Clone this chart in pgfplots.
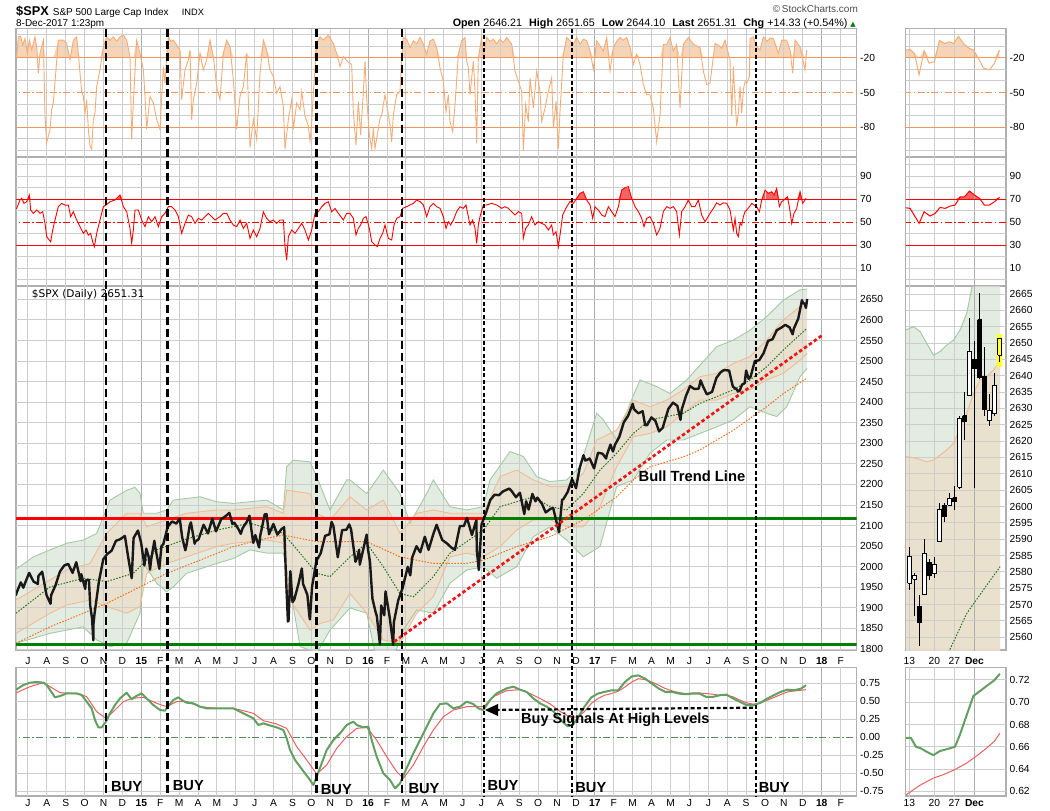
\documentclass[border=0pt]{standalone}
\usepackage{fontspec}
\setmainfont{Liberation Sans}
\newfontfamily\dejavu{DejaVu Sans}
\usepackage{pgfplots}
\usepackage{pgfplotstable}
\pgfplotsset{compat=1.18}
\usepgfplotslibrary{fillbetween}

\definecolor{gridc}{RGB}{205,205,205}
\definecolor{yearc}{RGB}{172,172,172}
\definecolor{framec}{RGB}{175,175,175}
\definecolor{wrline}{RGB}{246,172,118}
\definecolor{wrfill}{RGB}{248,212,182}
\definecolor{wrref}{RGB}{242,150,92}
\definecolor{rsil}{RGB}{255,0,0}
\definecolor{rsifill}{RGB}{240,100,100}
\definecolor{bbg}{RGB}{218,230,215}
\definecolor{bbgl}{RGB}{165,200,165}
\definecolor{bbt}{RGB}{236,220,200}
\definecolor{bbtl}{RGB}{240,188,148}
\definecolor{ma50c}{RGB}{30,120,30}
\definecolor{ma200c}{RGB}{250,110,20}
\definecolor{hgreen}{RGB}{0,128,0}
\definecolor{trendc}{RGB}{240,20,20}
\definecolor{macdg}{RGB}{98,160,98}
\definecolor{macdr}{RGB}{232,96,96}
\definecolor{zeroc}{RGB}{90,140,90}
\definecolor{hilite}{RGB}{255,255,60}

\tikzset{gl/.style={gridc, line width=1bp}, yl/.style={yearc, line width=1.1bp}}

\pgfplotsset{
  panel/.style={
    scale only axis,
    axis line style={framec, line width=1.1bp},
    major tick length=0pt, minor tick length=0pt,
    tick label style={font=\fontsize{10.3}{12}\selectfont, inner sep=0pt},
    yticklabel pos=right,
    yticklabel style={anchor=west, xshift=3.5bp},
  },
  mainx/.style={at={(16bp,#1)}, anchor=north west, width=840.5bp,
    xmin=-6.63, xmax=37.84, xtick={-6,...,37}},
  minix/.style={at={(905.8bp,#1)}, anchor=north west, width=100.2bp,
    xmin=-0.72, xmax=19.32, xtick={0,5,9,13}},
  months/.style={xticklabels={J,A,S,O,N,D,\textbf{15},F,M,A,M,J,J,A,S,O,N,D,\textbf{16},F,M,A,M,J,J,A,S,O,N,D,\textbf{17},F,M,A,M,J,J,A,S,O,N,D,\textbf{18},F}},
  days/.style={xticklabels={13,20,27,\textbf{Dec}}},
  wrax/.style={height=128.3bp, ymin=-105.55, ymax=4.95, ytick={-100,-90,...,0},
    yticklabels={,,-80,,,-50,,,-20,,}, xticklabels={,,}},
  rsiax/.style={height=129bp, ymin=-5.37, ymax=106.8, ytick={0,10,...,100},
    yticklabels={,10,,30,,50,,70,,90,}, xticklabels={,,}},
}

\begin{document}

% ---------------- Williams %R (daily) ----------------
\pgfplotstableread{
x y
-6.63 -19.1
-6.594 -19.1
-6.506 -2.1
-6.383 -1.5
-6.277 -9.2
-6.153 -3.5
-6.030 -16.3
-5.924 -4.9
-5.800 -13.4
-5.712 -7.8
-5.624 -2.1
-5.536 -10.6
-5.448 -33.4
-5.360 -16.3
-5.183 -4.9
-5.095 -70.4
-5.007 -93.2
-4.830 -81.8
-4.742 -64.7
-4.654 -59.0
-4.390 -4.9
-4.125 -4.9
-3.949 -7.8
-3.772 -22.0
-3.596 -4.9
-3.420 -2.1
-3.331 -16.3
-3.243 -33.4
-3.155 -49.1
-3.067 -53.3
-2.979 -67.6
-2.890 -56.2
-2.802 -81.8
-2.714 -96.1
-2.626 -98.9
-2.538 -73.3
-2.450 -67.6
-2.361 -44.8
-2.185 -30.5
-2.009 -10.6
-1.832 -2.1
-1.650 -5.0
-1.479 -2.1
-1.300 -6.0
-1.127 -2.1
-0.950 -0.6
-0.774 -4.9
-0.598 -19.1
-0.510 -90.4
-0.421 -59.0
-0.245 -4.9
-0.069 -16.3
0.108 -30.5
0.196 -53.3
0.284 -81.8
0.460 -53.3
0.637 -59.0
0.813 -73.3
0.990 -81.8
1.166 -27.7
1.254 -42.0
1.342 -19.1
1.431 -2.1
1.560 -6.0
1.695 -4.9
1.870 -9.0
2.048 -13.5
2.136 -56.2
2.312 -30.5
2.489 -22.0
2.577 -13.5
2.665 -73.3
2.753 -56.2
2.930 -42.0
3.106 -16.3
3.282 -30.5
3.459 -22.0
3.635 -4.9
3.811 -19.1
3.988 -44.8
4.164 -56.2
4.341 -16.3
4.517 -4.9
4.693 -10.6
4.870 -39.1
5.046 -81.8
5.222 -53.3
5.399 -44.8
5.575 -16.3
5.752 -97.5
5.928 -73.3
6.104 -90.4
6.281 -33.4
6.457 -4.9
6.633 -13.5
6.810 -30.5
6.986 -36.2
7.163 -50.5
7.339 -44.8
7.515 -61.9
7.603 -98.9
7.780 -73.3
7.956 -56.2
8.044 -81.8
8.221 -59.0
8.397 -64.7
8.485 -49.1
8.662 -70.4
8.838 -79.0
8.926 -91.8
9.014 -76.1
9.103 -50.5
9.279 -7.8
9.455 -2.1
9.632 -4.9
9.896 -0.6
10.161 -7.8
10.337 -16.3
10.513 -27.7
10.690 -19.1
10.950 -24.0
11.130 -25.8
11.218 -66.4
11.360 -95.4
11.483 -57.7
11.606 -86.7
11.748 -49.0
11.836 -22.9
11.924 -54.8
12.065 -86.7
12.189 -98.3
12.277 -80.9
12.365 -98.3
12.453 -89.6
12.630 -72.2
12.718 -69.3
12.894 -51.9
12.982 -60.6
13.159 -78.0
13.247 -92.5
13.335 -69.3
13.511 -51.9
13.688 -49.0
13.776 -20.0
13.864 -2.6
14.040 -4.1
14.217 -11.3
14.393 -5.5
14.570 -8.0
14.746 -2.6
14.922 -8.4
15.099 -17.1
15.275 -5.5
15.451 -4.1
15.628 -11.3
15.804 -28.7
15.980 -40.3
16.121 -66.4
16.245 -51.9
16.333 -75.1
16.474 -83.8
16.598 -60.6
16.774 -17.1
16.950 -5.5
17.127 -2.6
17.215 -22.9
17.303 -28.7
17.391 -51.9
17.568 -22.9
17.656 -49.0
17.744 -93.9
17.832 -20.0
18.009 -2.6
18.097 -20.0
18.273 -2.6
18.450 -6.0
18.626 -4.1
18.800 -8.0
18.979 -4.1
19.150 -7.0
19.331 -2.6
19.596 -8.4
19.772 -31.6
19.949 -40.3
20.125 -49.0
20.213 -99.7
20.337 -60.6
20.478 -75.1
20.566 -37.4
20.742 -63.5
20.919 -31.6
21.095 -49.0
21.183 -75.1
21.360 -63.5
21.536 -49.0
21.712 -37.4
21.801 -80.9
21.942 -57.7
22.065 -98.3
22.153 -66.4
22.330 -17.1
22.506 -2.6
22.683 -5.5
22.859 -8.4
23.035 -2.6
23.212 -8.4
23.390 -4.0
23.564 -5.5
23.741 -14.2
23.917 -30.1
24.093 -5.5
24.270 -10.0
24.446 -14.2
24.623 -2.6
24.799 -31.6
24.975 -11.3
25.150 -6.0
25.328 -2.6
25.500 -5.0
25.681 -2.6
25.857 -11.3
26.033 -25.8
26.210 -17.1
26.386 -25.8
26.562 -43.2
26.739 -51.9
26.915 -51.9
27.092 -63.5
27.268 -92.5
27.444 -69.3
27.621 -8.4
27.797 -8.4
27.974 -2.6
28.150 -14.2
28.326 -8.4
28.503 -63.5
28.679 -8.4
28.944 -2.6
29.208 -8.4
29.561 -11.3
29.737 -31.6
29.914 -43.2
30.090 -41.9
30.266 -19.1
30.355 -7.8
30.531 -9.2
30.707 -12.0
30.884 -4.9
31.060 -16.3
31.148 -22.0
31.237 -70.4
31.325 -27.7
31.413 -56.2
31.501 -79.0
31.589 -67.6
31.677 -44.8
31.766 -67.6
31.854 -47.6
31.942 -40.5
32.030 -41.9
32.171 -36.2
32.207 -3.5
32.383 -2.1
32.559 -10.6
32.736 -13.5
32.912 -2.1
33.100 -6.0
33.270 -3.0
33.441 -3.5
33.706 -16.3
33.882 -4.9
34.147 -4.9
34.323 -13.5
34.464 -33.4
34.588 -4.9
34.852 -10.6
35.117 -30.5
35.205 -13.5
}\wrmain

% ---------------- RSI (daily) ----------------
\pgfplotstableread{
x y
-6.63 62.1
-6.594 62.1
-6.418 69.4
-6.330 70.8
-6.206 66.5
-6.065 67.9
-5.924 73.7
-5.853 60.7
-5.712 57.8
-5.536 60.7
-5.360 57.8
-5.218 59.2
-5.095 49.1
-5.007 37.5
-4.866 34.6
-4.795 33.1
-4.689 43.3
-4.566 52.0
-4.390 63.6
-4.213 66.5
-4.037 65.0
-3.860 65.0
-3.737 54.9
-3.596 59.2
-3.420 52.0
-3.243 46.2
-3.067 40.4
-2.926 43.3
-2.802 38.9
-2.679 40.4
-2.573 33.1
-2.485 28.8
-2.361 40.4
-2.185 52.0
-2.009 63.6
-1.868 65.0
-1.656 67.9
-1.391 69.4
-1.127 73.7
-0.950 63.6
-0.774 59.2
-0.598 44.7
-0.510 31.7
-0.421 43.3
-0.333 60.7
-0.157 60.7
0.020 52.0
0.196 46.2
0.372 54.9
0.549 50.5
0.725 54.9
0.902 46.2
1.078 54.9
1.254 57.8
1.431 63.6
1.607 63.6
1.783 60.7
1.960 54.9
2.136 40.4
2.312 49.1
2.489 56.3
2.665 54.9
2.842 49.1
3.018 53.4
3.194 52.0
3.371 54.9
3.547 57.8
3.723 54.9
3.900 52.0
4.164 54.9
4.341 57.8
4.517 57.8
4.693 52.0
4.870 47.6
5.046 46.2
5.222 52.0
5.399 44.7
5.575 49.1
5.752 36.0
5.928 43.3
6.104 37.5
6.281 44.7
6.457 59.2
6.633 53.4
6.810 50.5
6.986 52.0
7.163 49.1
7.339 52.0
7.515 52.0
7.603 28.8
7.692 17.2
7.780 37.5
7.956 43.3
8.133 40.4
8.309 44.7
8.485 49.1
8.662 43.3
8.838 34.6
9.014 43.3
9.191 57.8
9.367 59.2
9.543 63.6
9.720 66.5
9.896 67.9
10.072 59.2
10.249 62.1
10.425 57.8
10.690 52.0
10.866 57.8
11.042 57.8
11.218 53.5
11.360 39.0
11.483 44.8
11.606 47.7
11.748 53.5
11.889 54.9
12.065 44.8
12.189 33.2
12.365 30.3
12.488 28.8
12.630 36.1
12.771 40.4
12.894 47.7
13.070 36.1
13.247 34.6
13.370 47.7
13.511 53.5
13.688 54.9
13.829 62.2
14.040 63.6
14.217 65.1
14.393 66.5
14.570 69.4
14.746 68.0
14.922 65.1
15.099 54.9
15.275 63.6
15.451 66.5
15.628 63.6
15.804 62.2
15.980 54.9
16.121 44.8
16.245 50.6
16.368 47.7
16.510 52.0
16.686 59.3
16.862 63.6
17.039 62.2
17.180 65.1
17.303 54.9
17.391 47.7
17.533 52.0
17.656 44.8
17.744 31.7
17.832 47.7
17.920 54.9
18.097 65.1
18.273 65.1
18.538 66.5
18.802 65.1
19.067 62.2
19.243 63.6
19.420 62.2
19.596 59.3
19.772 56.4
19.949 59.3
20.125 57.8
20.213 36.1
20.337 44.8
20.478 47.7
20.654 54.9
20.830 47.7
21.007 50.6
21.183 49.1
21.360 47.7
21.536 43.3
21.712 47.7
21.801 39.0
21.942 41.9
22.065 28.8
22.153 39.0
22.294 56.4
22.506 63.6
22.683 68.0
22.859 66.5
23.035 70.9
23.212 75.2
23.388 76.6
23.564 69.4
23.741 65.1
23.882 53.5
24.005 63.6
24.182 60.7
24.358 56.4
24.534 54.9
24.711 63.6
24.887 59.3
25.063 54.9
25.240 63.6
25.416 78.1
25.593 80.1
25.769 81.0
25.945 70.9
26.122 63.6
26.298 59.3
26.474 53.5
26.598 46.2
26.739 53.5
26.915 54.9
27.092 49.1
27.268 39.0
27.444 44.8
27.621 59.3
27.797 63.6
27.974 62.2
28.150 63.6
28.326 59.3
28.467 39.0
28.591 59.3
28.767 63.6
28.944 69.4
29.120 63.6
29.296 63.6
29.473 69.4
29.649 56.4
29.826 50.6
30.090 57.8
30.266 62.1
30.443 67.0
30.619 65.0
30.796 67.0
30.972 66.5
31.148 60.7
31.237 52.0
31.325 43.3
31.413 53.4
31.501 40.4
31.589 37.5
31.677 49.1
31.766 47.6
31.854 54.9
31.942 59.2
32.030 60.7
32.171 63.6
32.295 66.5
32.418 65.0
32.559 63.6
32.700 59.2
32.824 69.4
33.000 78.0
33.177 75.2
33.353 76.6
33.476 73.7
33.618 79.5
33.759 63.6
33.882 67.9
34.005 69.4
34.182 72.2
34.288 63.6
34.411 49.1
34.534 57.8
34.676 62.1
34.852 76.6
34.993 66.5
35.170 70.8
}\rsimain

% ---------------- S&P 500 close ----------------
\pgfplotstableread{
x y
-6.64 1930
-6.605 1936
-6.375 1962
-6.243 1949
-6.145 1961
-5.934 1985
-5.704 1964
-5.474 1958
-5.441 1978
-5.243 1988
-5.013 1931
-4.803 1910
-4.770 1931
-4.539 1955
-4.309 1988
-4.079 2003
-3.868 2007
-3.638 1985
-3.441 2011
-3.211 1965
-3.178 1982
-2.967 1946
-2.934 1967
-2.770 1968
-2.704 1906
-2.605 1874
-2.539 1821
-2.528 1862
-2.474 1886
-2.243 1964
-2.013 2018
-1.803 2031
-1.572 2039
-1.342 2063
-1.112 2067
-0.868 2075
-0.704 2026
-0.507 1972
-0.408 2070
-0.178 2088
-0.013 2059
0.164 2003
0.263 2044
0.395 2023
0.461 1993
0.526 2019
0.691 2063
0.724 2051
0.954 1995
1.066 2050
1.164 2055
1.395 2097
1.625 2110
1.855 2105
2.033 2117
2.164 2071
2.329 2040
2.395 2053
2.559 2100
2.625 2108
2.822 2056
2.855 2061
3.033 2067
3.296 2102
3.526 2081
3.757 2117
3.954 2086
4.230 2116
4.461 2123
4.658 2131
4.822 2104
4.921 2107
5.132 2092
5.263 2080
5.362 2094
5.592 2110
5.724 2124
5.921 2058
6.033 2077
6.230 2047
6.296 2076
6.526 2127
6.625 2128
6.757 2079
6.987 2104
7.197 2078
7.428 2092
7.559 2096
7.658 1971
7.757 1867
7.789 1868
7.888 1989
8.000 1914
8.099 1921
8.329 1961
8.493 1996
8.559 1958
8.691 1943
8.789 1931
8.888 1882
8.921 1872
9.033 1951
9.263 2014
9.493 2033
9.724 2075
9.954 2079
10.066 2109
10.164 2099
10.395 2023
10.625 2089
10.855 2090
11.000 2103
11.099 2091
11.329 2012
11.428 2022
11.526 2041
11.559 2005
11.921 2078
11.987 2044
12.099 2012
12.197 1943
12.230 1922
12.395 1890
12.461 1880
12.625 1812
12.691 1906
12.855 1882
12.921 1940
13.132 1880
13.329 1810
13.362 1865
13.592 1918
13.822 1948
14.099 2000
14.230 1979
14.329 2022
14.559 2050
14.757 2035
15.000 2073
15.197 2041
15.461 2081
15.625 2102
15.921 2065
16.164 2057
16.395 2047
16.592 2041
16.855 2099
17.066 2099
17.230 2119
17.493 2077
17.724 2113
17.757 2037
17.855 1992
18.000 2103
18.230 2130
18.461 2162
18.691 2175
18.921 2174
19.132 2183
19.461 2190
19.592 2184
19.822 2169
20.033 2180
20.263 2128
20.362 2159
20.493 2139
20.691 2177
20.855 2159
20.954 2168
21.197 2153
21.395 2132
21.658 2141
21.789 2143
22.033 2097
22.099 2084
22.263 2163
22.329 2164
22.559 2182
22.789 2213
23.000 2191
23.197 2241
23.395 2271
23.493 2258
23.724 2263
23.954 2239
24.164 2277
24.395 2275
24.592 2263
24.625 2271
24.822 2297
24.954 2280
25.066 2297
25.296 2316
25.526 2351
25.757 2367
26.000 2396
26.066 2383
26.296 2373
26.526 2378
26.658 2344
26.757 2344
26.987 2363
27.197 2355
27.395 2329
27.592 2338
27.658 2349
27.888 2384
28.132 2399
28.362 2391
28.526 2357
28.592 2382
28.822 2416
29.033 2439
29.263 2432
29.493 2433
29.592 2453
29.724 2438
29.921 2419
30.197 2425
30.428 2459
30.658 2473
30.822 2478
31.099 2477
31.296 2438
31.526 2430
31.559 2426
31.658 2428
31.789 2443
31.921 2446
32.000 2477
32.132 2457
32.230 2461
32.461 2500
32.691 2502
32.921 2519
33.164 2549
33.395 2553
33.625 2575
33.855 2581
34.066 2588
34.296 2582
34.461 2565
34.526 2579
34.757 2603
34.954 2648
35.000 2642
35.099 2639
35.164 2629
35.230 2651
}\price

\pgfplotstableread{
x y
-6.63 1994
-5.712 2024
-4.830 2041
-3.949 2057
-3.067 2065
-2.361 2081
-1.656 2162
-0.774 2186
-0.333 2193
-0.069 2178
0.108 2130
0.813 2130
1.342 2138
1.695 2162
2.401 2166
3.106 2170
3.988 2158
4.870 2154
5.752 2158
6.633 2162
7.515 2138
7.692 2243
8.044 2259
8.926 2255
9.279 2219
9.984 2138
10.866 2211
11.042 2211
11.924 2178
12.806 2235
13.688 2178
14.217 2106
15.099 2178
15.451 2211
16.333 2146
17.215 2138
18.097 2146
18.449 2211
19.508 2280
20.213 2268
20.919 2219
21.624 2207
22.506 2211
23.211 2243
24.093 2373
24.446 2357
25.151 2308
25.857 2397
26.386 2454
27.268 2438
27.973 2421
28.855 2454
29.561 2490
30.443 2535
31.325 2551
32.207 2575
33.088 2608
33.970 2648
34.852 2673
35.23 2675
}\gu

\pgfplotstableread{
x y
-6.63 1814
-4.830 1838
-3.067 1854
-2.361 1822
-1.656 1806
-0.774 1814
-0.069 1887
0.108 2008
0.813 1960
1.342 1939
1.695 1951
2.401 1984
3.988 2008
4.870 2020
5.752 2041
6.633 2033
7.515 2033
7.868 1951
8.397 1806
9.279 1790
9.984 1846
11.042 1900
11.924 1887
12.453 1773
13.159 1757
13.864 1846
14.569 1895
15.451 1887
16.333 1960
17.215 1992
18.097 2000
18.802 1972
19.860 2000
20.742 2073
21.624 2097
22.506 2065
23.388 2024
24.270 2049
25.151 2195
26.033 2211
26.915 2276
27.797 2308
28.679 2308
29.561 2324
30.443 2340
31.325 2357
32.207 2389
33.088 2373
33.618 2365
34.147 2389
34.852 2462
35.23 2482
}\gl

\pgfplotstableread{
x y
-6.63 1919
-4.830 1968
-3.949 1992
-2.714 2008
-1.832 2081
-0.774 2130
-0.069 2130
0.284 2097
1.342 2114
2.401 2130
3.988 2138
4.870 2138
6.633 2146
7.515 2130
7.692 2186
8.926 2178
9.279 2130
9.984 2114
11.042 2170
11.924 2138
12.806 2162
13.688 2081
14.569 2130
15.451 2138
16.333 2130
18.097 2130
18.979 2219
19.860 2235
20.742 2211
21.624 2195
22.506 2195
23.388 2227
24.093 2308
25.151 2332
26.033 2405
26.915 2389
27.797 2405
28.679 2430
29.561 2462
30.443 2470
31.325 2494
32.207 2511
33.088 2551
33.970 2600
34.852 2632
35.23 2640
}\tu

\pgfplotstableread{
x y
-6.63 1838
-4.830 1887
-3.949 1907
-2.714 1919
-1.832 1903
-0.774 1887
-0.069 1903
0.284 1984
1.342 2008
2.401 2024
3.988 2049
4.870 2057
6.633 2065
7.515 2057
7.868 1919
8.926 1846
9.455 1862
10.161 1871
11.042 1935
11.924 1887
12.806 1822
13.688 1814
14.569 1887
15.451 1927
16.333 2024
17.215 2033
18.097 2024
18.979 2049
19.860 2089
20.742 2114
21.624 2114
22.506 2097
23.388 2097
24.270 2146
25.151 2243
26.033 2316
26.915 2324
27.797 2340
28.679 2373
29.561 2405
30.443 2405
31.325 2421
32.207 2430
33.088 2454
33.970 2470
34.852 2502
35.23 2519
}\tl

\pgfplotstableread{
x y
-6.63 1887
-4.830 1951
-3.067 1972
-1.832 1964
-0.421 1984
0.813 2041
2.225 2065
3.988 2089
5.752 2106
7.515 2081
8.397 2033
9.279 1984
9.984 1976
11.042 2024
11.924 2057
12.806 2000
13.688 1935
14.393 1927
15.451 1976
16.333 2033
18.097 2089
18.979 2146
20.742 2170
21.624 2146
22.506 2138
23.388 2178
24.270 2235
25.151 2276
26.033 2324
26.915 2357
28.679 2373
29.561 2397
31.325 2430
32.207 2454
33.088 2486
33.970 2527
35.205 2579
}\maf

\pgfplotstableread{
x y
-6.63 1814
-4.830 1854
-3.067 1887
-1.832 1911
-0.421 1943
1.342 1984
3.106 2016
4.870 2049
6.633 2069
7.515 2077
9.279 2061
11.042 2061
11.924 2061
13.688 2024
15.451 2008
17.215 2008
18.097 2016
19.860 2049
21.624 2073
23.388 2114
25.151 2170
26.033 2211
26.915 2243
28.679 2267
29.561 2284
31.325 2332
33.088 2389
33.970 2421
35.205 2458
}\mas

% ---------------- lower oscillator ----------------
\pgfplotstableread{
x y
-6.63 0.662
-6.594 0.662
-6.241 0.722
-5.889 0.755
-5.536 0.764
-5.183 0.755
-5.007 0.722
-4.830 0.653
-4.566 0.551
-4.301 0.569
-3.949 0.606
-3.420 0.606
-3.155 0.583
-2.890 0.491
-2.626 0.398
-2.450 0.236
-2.273 0.134
-2.097 0.134
-1.868 0.213
-1.656 0.329
-1.391 0.444
-1.127 0.537
-0.774 0.616
-0.510 0.523
-0.333 0.560
0.020 0.606
0.284 0.537
0.637 0.444
0.990 0.375
1.254 0.366
1.431 0.431
1.695 0.514
1.960 0.551
2.136 0.514
2.401 0.477
2.753 0.468
3.106 0.421
3.459 0.398
3.988 0.398
4.517 0.398
4.870 0.398
5.222 0.352
5.575 0.306
5.928 0.259
6.193 0.167
6.457 0.190
6.722 0.167
7.163 0.134
7.515 0.097
7.692 -0.019
7.868 -0.181
8.133 -0.319
8.397 -0.412
8.662 -0.505
8.926 -0.597
9.103 -0.667
9.279 -0.551
9.543 -0.366
9.808 -0.181
10.161 -0.042
10.513 0.051
10.866 0.167
11.219 0.213
11.395 0.167
11.748 0.134
12.013 0.144
12.189 -0.042
12.453 -0.273
12.806 -0.505
13.159 -0.597
13.423 -0.713
13.688 -0.644
13.952 -0.481
14.393 -0.227
14.746 -0.042
15.099 0.144
15.452 0.329
15.804 0.458
16.157 0.468
16.510 0.398
16.862 0.421
17.215 0.491
17.568 0.458
17.833 0.398
18.097 0.375
18.450 0.514
18.803 0.606
19.332 0.676
19.685 0.699
20.04 0.658
20.39 0.626
20.75 0.534
21.11 0.465
21.47 0.419
21.83 0.350
22.19 0.235
22.54 0.152
22.81 0.161
23.08 0.258
23.44 0.419
23.80 0.548
24.16 0.603
24.51 0.626
24.87 0.649
25.23 0.649
25.59 0.764
25.95 0.842
26.30 0.856
26.66 0.810
27.02 0.741
27.38 0.672
27.74 0.626
28.09 0.626
28.45 0.603
28.81 0.594
29.17 0.603
29.53 0.603
29.89 0.557
30.24 0.557
30.60 0.580
30.96 0.589
31.32 0.534
31.68 0.488
32.03 0.442
32.39 0.442
32.75 0.474
33.11 0.534
33.47 0.580
33.82 0.626
34.18 0.658
34.54 0.649
34.90 0.672
35.17 0.718
}\oscg

\pgfplotstableread{
x y
-6.63 0.616
-6.594 0.616
-5.889 0.699
-5.183 0.755
-4.830 0.699
-4.301 0.616
-3.772 0.606
-3.243 0.597
-2.890 0.560
-2.361 0.352
-1.868 0.259
-1.391 0.375
-0.950 0.491
-0.510 0.537
0.108 0.551
0.813 0.468
1.342 0.421
1.871 0.491
2.401 0.491
3.106 0.421
3.988 0.398
4.870 0.398
5.399 0.366
5.928 0.329
6.457 0.227
7.163 0.181
7.692 0.120
8.221 -0.134
8.750 -0.319
9.279 -0.514
9.808 -0.389
10.337 -0.157
10.866 0.005
11.395 0.120
11.924 0.134
12.453 -0.042
12.982 -0.273
13.511 -0.481
13.864 -0.574
14.393 -0.389
14.922 -0.134
15.452 0.097
15.981 0.282
16.510 0.375
17.215 0.421
18.097 0.421
18.626 0.560
19.332 0.644
20.04 0.658
20.57 0.603
21.11 0.534
21.65 0.456
22.19 0.350
22.72 0.272
23.08 0.281
23.44 0.350
23.80 0.465
24.16 0.534
24.51 0.580
24.87 0.603
25.23 0.635
25.59 0.695
25.95 0.764
26.30 0.810
26.66 0.796
27.02 0.764
27.38 0.718
27.74 0.672
28.09 0.640
28.45 0.617
28.81 0.603
29.17 0.612
29.53 0.612
29.89 0.603
30.24 0.594
30.60 0.580
30.96 0.580
31.32 0.557
31.68 0.511
32.03 0.474
32.39 0.456
32.75 0.474
33.11 0.511
33.47 0.548
33.82 0.589
34.18 0.626
34.54 0.640
34.90 0.649
35.17 0.658
}\oscr

% ---------------- mini (last 19 sessions) ----------------
\pgfplotstableread{
x y
-0.73 -13.5
0.14 -12.9
1.01 -16.3
1.94 -34.7
2.94 -14.0
3.94 -24.8
5.01 -23.4
6.01 -5.0
7.01 -7.8
8.01 -6.4
8.81 -7.8
9.81 -1.6
10.81 -7.8
12.01 -12.1
12.81 -13.5
13.81 -20.6
14.81 -29.0
16.01 -30.5
17.01 -24.8
18.01 -13.5
}\wrmini

\pgfplotstableread{
x y
-0.73 62.7
0.14 62.1
1.94 49.1
2.94 59.2
4.14 55.4
5.14 57.8
6.14 63.0
7.14 62.1
8.14 64.1
9.14 65.0
10.14 72.2
11.01 72.2
12.01 77.2
13.01 73.7
14.01 70.8
15.01 65.0
16.01 65.0
17.01 67.9
18.01 71.7
}\rsimini

\pgfplotstableread{
x y
-0.73 2654.0
0.81 2655.0
2.14 2653.5
3.47 2649.9
4.81 2646.3
6.14 2647.4
7.47 2649.4
8.81 2650.9
10.14 2654.0
11.47 2659.1
12.14 2664.2
12.81 2669.3
13.5 2676
18.14 2700
}\gumini

\pgfplotstableread{
x y
-0.73 2615.3
1.47 2614.7
3.47 2613.7
4.81 2614.2
7.47 2617.3
8.81 2619.3
10.14 2623.9
11.47 2628.5
12.81 2634.6
14.14 2638.7
15.47 2639.7
16.81 2641.8
18.14 2644.3
}\tumini

\pgfplotstableread{
x y
-0.7 0.668
0.3 0.668
1.3 0.660
2.3 0.6586
3.4 0.6556
4.8 0.6525
6.1 0.6562
7.6 0.658
9.1 0.660
10.1 0.6708
11.5 0.689
12.8 0.7057
14.2 0.7103
15.5 0.7148
16.9 0.7194
18.1 0.7255
}\oscgmini

\pgfplotstableread{
x y
-0.7 0.6167
2.0 0.6252
4.8 0.6319
6.8 0.6350
9.1 0.6395
11.5 0.6455
13.5 0.6520
15.5 0.6590
17.0 0.6650
18.1 0.6723
}\oscrmini

\begin{tikzpicture}

% ===== %R main =====
\begin{axis}[panel, mainx={-28.7bp}, wrax]
\pgfplotsinvokeforeach{-6,...,37}{\draw[gl] (axis cs:#1,-106) -- (axis cs:#1,5);}
\pgfplotsinvokeforeach{0,12,24,36}{\draw[yl] (axis cs:#1,-106) -- (axis cs:#1,5);}
\pgfplotsinvokeforeach{-100,-90,-70,-60,-40,-30,-10,0}{\draw[gl] (axis cs:-7,#1) -- (axis cs:38,#1);}
\addplot[name path=wr, draw=none, y filter/.expression={max(y,-20)}] table {\wrmain};
\addplot[name path=wr20, draw=none] coordinates {(-6.63,-20) (35.205,-20)};
\addplot[wrfill, draw=none] fill between[of=wr and wr20];
\addplot[wrref, line width=1.1bp] coordinates {(-7,-20) (38,-20)};
\addplot[wrref, line width=1.1bp] coordinates {(-7,-80) (38,-80)};
\addplot[wrref, line width=1bp, dash pattern=on 7bp off 2.5bp on 1.5bp off 2.5bp] coordinates {(-7,-50) (38,-50)};
\addplot[wrline, line width=0.9bp] table {\wrmain};
\end{axis}

% ===== RSI main =====
\begin{axis}[panel, mainx={-157bp}, rsiax]
\pgfplotsinvokeforeach{-6,...,37}{\draw[gl] (axis cs:#1,-6) -- (axis cs:#1,107);}
\pgfplotsinvokeforeach{0,12,24,36}{\draw[yl] (axis cs:#1,-6) -- (axis cs:#1,107);}
\pgfplotsinvokeforeach{0,10,20,40,60,80,90,100}{\draw[gl] (axis cs:-7,#1) -- (axis cs:38,#1);}
\addplot[name path=rs, draw=none, y filter/.expression={max(y,70)}] table {\rsimain};
\addplot[name path=rs70, draw=none] coordinates {(-6.63,70) (35.17,70)};
\addplot[rsifill, draw=none] fill between[of=rs and rs70];
\addplot[rsil, line width=1.1bp] coordinates {(-7,70) (38,70)};
\addplot[rsil, line width=1.1bp] coordinates {(-7,30) (38,30)};
\addplot[rsil, line width=1bp, dash pattern=on 7bp off 2.5bp on 1.5bp off 2.5bp] coordinates {(-7,50) (38,50)};
\addplot[rsil, line width=0.9bp] table {\rsimain};
\end{axis}

% ===== Price main =====
\begin{axis}[panel, mainx={-286bp}, height=364bp, ymin=1797.6, ymax=2682.4,
  ytick={1800,1850,...,2650},
  yticklabels={1800,1850,1900,1950,2000,2050,2100,2150,2200,2250,2300,2350,2400,2450,2500,2550,2600,2650},
  months, xticklabel style={anchor=base, yshift=-14.4bp}]
\addplot[name path=gu, draw=none] table {\gu};
\addplot[name path=gl, draw=none] table {\gl};
\addplot[name path=tu, draw=none] table {\tu};
\addplot[name path=tl, draw=none] table {\tl};
\addplot[bbg, fill opacity=0.75, draw=none] fill between[of=gu and gl];
\addplot[bbt, fill opacity=0.75, draw=none] fill between[of=tu and tl];
\pgfplotsinvokeforeach{-6,...,37}{\draw[gl] (axis cs:#1,1790) -- (axis cs:#1,2690);}
\pgfplotsinvokeforeach{0,12,24,36}{\draw[yl] (axis cs:#1,1790) -- (axis cs:#1,2690);}
\pgfplotsinvokeforeach{1800,1850,...,2650}{\draw[gl] (axis cs:-7,#1) -- (axis cs:38,#1);}
\addplot[bbgl, line width=0.9bp] table {\gu};
\addplot[bbgl, line width=0.9bp] table {\gl};
\addplot[bbtl, line width=0.9bp] table {\tu};
\addplot[bbtl, line width=0.9bp] table {\tl};
\addplot[ma50c, line width=1bp, dash pattern=on 1.5bp off 1.5bp] table {\maf};
\addplot[ma200c, line width=1bp, dash pattern=on 1.5bp off 1.5bp] table {\mas};
\addplot[red, line width=2.8bp] coordinates {(-7,2117) (18.13,2117)};
\addplot[hgreen, line width=2.8bp] coordinates {(18.13,2117) (38,2117)};
\addplot[hgreen, line width=2.8bp] coordinates {(-7,1810.5) (38,1810.5)};
\addplot[black!90, line width=2.4bp, line join=round] table {\price};
\addplot[trendc, line width=2.7bp, dash pattern=on 3.5bp off 2.5bp] coordinates {(13.38,1818) (36.04,2563)};
\end{axis}

% ===== oscillator main =====
\begin{axis}[panel, mainx={-667.7bp}, height=128.3bp, ymin=-0.819, ymax=0.9625,
  ytick={-0.75,-0.5,-0.25,0,0.25,0.5,0.75},
  yticklabels={-0.75,-0.50,-0.25,0.00,0.25,0.50,0.75},
  months, xticklabel style={anchor=base, yshift=-10.4bp}]
\pgfplotsinvokeforeach{-6,...,37}{\draw[gl] (axis cs:#1,-0.9) -- (axis cs:#1,1);}
\pgfplotsinvokeforeach{0,12,24,36}{\draw[yl] (axis cs:#1,-0.9) -- (axis cs:#1,1);}
\pgfplotsinvokeforeach{-0.75,-0.5,-0.25,0.25,0.5,0.75}{\draw[gl] (axis cs:-7,#1) -- (axis cs:38,#1);}
\addplot[zeroc, line width=1bp, dash pattern=on 7bp off 2.5bp on 1.5bp off 2.5bp] coordinates {(-7,0) (38,0)};
\addplot[macdr, line width=1bp] table {\oscr};
\addplot[macdg, line width=2bp, line join=round] table {\oscg};
\end{axis}

% ===== mini %R =====
\begin{axis}[panel, minix={-28.7bp}, wrax]
\pgfplotsinvokeforeach{0,5,9}{\draw[gl] (axis cs:#1,-106) -- (axis cs:#1,5);}
\draw[yl] (axis cs:13,-106) -- (axis cs:13,5);
\pgfplotsinvokeforeach{-100,-90,-70,-60,-40,-30,-10,0}{\draw[gl] (axis cs:-1,#1) -- (axis cs:20,#1);}
\addplot[name path=wrm, draw=none, y filter/.expression={max(y,-20)}] table {\wrmini};
\addplot[name path=wrm20, draw=none] coordinates {(-0.73,-20) (18.01,-20)};
\addplot[wrfill, draw=none] fill between[of=wrm and wrm20];
\addplot[wrref, line width=1.1bp] coordinates {(-1,-20) (20,-20)};
\addplot[wrref, line width=1.1bp] coordinates {(-1,-80) (20,-80)};
\addplot[wrref, line width=1bp, dash pattern=on 7bp off 2.5bp on 1.5bp off 2.5bp] coordinates {(-1,-50) (20,-50)};
\addplot[wrline, line width=1bp] table {\wrmini};
\end{axis}

% ===== mini RSI =====
\begin{axis}[panel, minix={-157bp}, rsiax]
\pgfplotsinvokeforeach{0,5,9}{\draw[gl] (axis cs:#1,-6) -- (axis cs:#1,107);}
\draw[yl] (axis cs:13,-6) -- (axis cs:13,107);
\pgfplotsinvokeforeach{0,10,20,40,60,80,90,100}{\draw[gl] (axis cs:-1,#1) -- (axis cs:20,#1);}
\addplot[name path=rsm, draw=none, y filter/.expression={max(y,70)}] table {\rsimini};
\addplot[name path=rsm70, draw=none] coordinates {(-0.73,70) (18.01,70)};
\addplot[rsifill, draw=none] fill between[of=rsm and rsm70];
\addplot[rsil, line width=1.1bp] coordinates {(-1,70) (20,70)};
\addplot[rsil, line width=1.1bp] coordinates {(-1,30) (20,30)};
\addplot[rsil, line width=1bp, dash pattern=on 7bp off 2.5bp on 1.5bp off 2.5bp] coordinates {(-1,50) (20,50)};
\addplot[rsil, line width=1bp] table {\rsimini};
\end{axis}

% ===== mini price =====
\begin{axis}[panel, minix={-286bp}, height=364bp, ymin=2556.1, ymax=2667.45,
  ytick={2560,2565,...,2665},
  yticklabels={2560,2565,2570,2575,2580,2585,2590,2595,2600,2605,2610,2615,2620,2625,2630,2635,2640,2645,2650,2655,2660,2665},
  days, xticklabel style={anchor=base, yshift=-14.4bp}]
\addplot[name path=gum, draw=none] table {\gumini};
\addplot[name path=tum, draw=none] table {\tumini};
\addplot[name path=botm, draw=none] coordinates {(-0.73,2550) (18.14,2550)};
\addplot[bbg, fill opacity=0.75, draw=none] fill between[of=gum and botm];
\addplot[bbt, fill opacity=0.75, draw=none] fill between[of=tum and botm];
\pgfplotsinvokeforeach{0,5,9}{\draw[gl] (axis cs:#1,2550) -- (axis cs:#1,2670);}
\draw[yl] (axis cs:13,2550) -- (axis cs:13,2670);
\pgfplotsinvokeforeach{2560,2565,...,2665}{\draw[gl] (axis cs:-1,#1) -- (axis cs:20,#1);}
\addplot[bbgl, line width=1bp] table {\gumini};
\addplot[bbtl, line width=1bp] table {\tumini};
\addplot[ma50c, line width=1bp, dash pattern=on 1.5bp off 1.5bp] coordinates {(7.0,2552) (7.8,2555.3) (11.47,2567.3) (14.8,2574.5) (18.14,2581.6)};
\addplot[fill=hilite, draw=none] coordinates {(17.4,2642.7) (18.6,2642.7) (18.6,2652.8) (17.4,2652.8) (17.4,2642.7)};
\addplot[black, line width=1.1bp, unbounded coords=jump] coordinates {
(0,2574.48) (0,2587.66) (0,nan)
(1,2566.56) (1,2579.66) (1,nan)
(2,2557.45) (2,2572.84) (2,nan)
(3,2572.95) (3,2590.09) (3,nan)
(4,2577.62) (4,2583.96) (4,nan)
(5,2578.24) (5,2584.64) (5,nan)
(6,2589.17) (6,2601.19) (6,nan)
(7,2595.23) (7,2600.94) (7,nan)
(8,2600.42) (8,2604.21) (8,nan)
(9,2598.87) (9,2606.41) (9,nan)
(10,2605.44) (10,2627.69) (10,nan)
(11,2620.32) (11,2634.89) (11,nan)
(12,2633.93) (12,2657.74) (12,nan)
(13,2605.52) (13,2650.62) (13,nan)
(14,2639.03) (14,2665.19) (14,nan)
(15,2627.73) (15,2648.72) (15,nan)
(16,2624.75) (16,2634.41) (16,nan)
(17,2627.73) (17,2640.99) (17,nan)
(18,2644.10) (18,2651.65)};
\addplot[fill=white, draw=black, line width=0.9bp, unbounded coords=jump] coordinates {
(-0.38,2576.53) (0.38,2576.53) (0.38,2584.84) (-0.38,2584.84) (-0.38,2576.53) (0,nan)
(0.62,2577.75) (1.38,2577.75) (1.38,2578.87) (0.62,2578.87) (0.62,2577.75) (1,nan)
(2.62,2572.95) (3.38,2572.95) (3.38,2585.64) (2.62,2585.64) (2.62,2572.95) (3,nan)
(4.62,2579.49) (5.38,2579.49) (5.38,2582.14) (4.62,2582.14) (4.62,2579.49) (5,nan)
(5.62,2589.17) (6.38,2589.17) (6.38,2599.03) (5.62,2599.03) (5.62,2589.17) (6,nan)
(7.62,2600.42) (8.38,2600.42) (8.38,2602.42) (7.62,2602.42) (7.62,2600.42) (8,nan)
(9.62,2605.94) (10.38,2605.94) (10.38,2627.04) (9.62,2627.04) (9.62,2605.94) (10,nan)
(11.62,2633.93) (12.38,2633.93) (12.38,2647.58) (11.62,2647.58) (11.62,2633.93) (12,nan)
(15.62,2626.24) (16.38,2626.24) (16.38,2629.27) (15.62,2629.27) (15.62,2626.24) (16,nan)
(16.62,2628.38) (17.38,2628.38) (17.38,2636.98) (16.62,2636.98) (16.62,2628.38)};
\addplot[fill=black, draw=black, line width=0.9bp, unbounded coords=jump] coordinates {
(1.62,2569.45) (2.38,2569.45) (2.38,2564.62) (1.62,2564.62) (1.62,2569.45) (2,nan)
(3.62,2582.94) (4.38,2582.94) (4.38,2578.85) (3.62,2578.85) (3.62,2582.94) (4,nan)
(6.62,2600.31) (7.38,2600.31) (7.38,2597.08) (6.62,2597.08) (6.62,2600.31) (7,nan)
(8.62,2602.66) (9.38,2602.66) (9.38,2601.42) (8.62,2601.42) (8.62,2602.66) (9,nan)
(10.62,2627.82) (11.38,2627.82) (11.38,2626.07) (10.62,2626.07) (10.62,2627.82) (11,nan)
(12.62,2645.10) (13.38,2645.10) (13.38,2642.22) (12.62,2642.22) (12.62,2645.10) (13,nan)
(13.62,2657.19) (14.38,2657.19) (14.38,2639.44) (13.62,2639.44) (13.62,2657.19) (14,nan)
(14.62,2639.78) (15.38,2639.78) (15.38,2629.57) (14.62,2629.57) (14.62,2639.78)};
\addplot[fill=hilite, draw=black, line width=0.9bp] coordinates {
(17.62,2646.21) (18.38,2646.21) (18.38,2651.31) (17.62,2651.31) (17.62,2646.21)};
\end{axis}

% ===== mini oscillator =====
\begin{axis}[panel, minix={-667.7bp}, height=128.3bp, ymin=0.6158, ymax=0.731,
  ytick={0.62,0.64,0.66,0.68,0.70,0.72},
  yticklabels={0.62,0.64,0.66,0.68,0.70,0.72},
  days, xticklabel style={anchor=base, yshift=-10.4bp}]
\pgfplotsinvokeforeach{0,5,9}{\draw[gl] (axis cs:#1,0.6) -- (axis cs:#1,0.74);}
\draw[yl] (axis cs:13,0.6) -- (axis cs:13,0.74);
\pgfplotsinvokeforeach{0.62,0.64,0.66,0.68,0.70,0.72}{\draw[gl] (axis cs:-1,#1) -- (axis cs:20,#1);}
\addplot[macdr, line width=1bp] table {\oscrmini};
\addplot[macdg, line width=2bp, line join=round] table {\oscgmini};
\end{axis}

% ===== header =====
\node[anchor=base west, inner sep=0, font=\bfseries\fontsize{12.8}{14}\selectfont] at (16bp,-15bp) {\$SPX};
\node[anchor=base west, inner sep=0, font=\fontsize{10}{12}\selectfont] at (52.7bp,-15bp) {S\&P 500 Large Cap Index};
\node[anchor=base west, inner sep=0, font=\fontsize{9.3}{11}\selectfont] at (181.7bp,-15bp) {INDX};
\node[anchor=base west, inner sep=0, font=\fontsize{10}{12}\selectfont] at (16bp,-26.7bp) {8-Dec-2017 1:23pm};
\node[anchor=base east, inner sep=0, font=\fontsize{10}{12}\selectfont, text=black!70] at (858bp,-12.2bp) {\textcopyright\,StockCharts.com};
\node[anchor=base east, inner sep=0, font=\fontsize{10.8}{12}\selectfont] at (856bp,-26.5bp)
 {\textbf{Open} 2646.21\hspace{7bp}\textbf{High} 2651.65\hspace{7bp}\textbf{Low} 2644.10\hspace{7bp}\textbf{Last} 2651.31\hspace{7bp}\textbf{Chg} +14.33 (+0.54\%) {\dejavu\fontsize{7}{8}\selectfont\textcolor{hgreen}{▲}}};
\node[anchor=base west, inner sep=0, font=\dejavu\fontsize{10.6}{12}\selectfont] at (31.7bp,-297.5bp) {\$SPX (Daily) 2651.31};

% ===== annotations =====
\node[anchor=base west, inner sep=0, font=\bfseries\fontsize{14.8}{16}\selectfont] at (638.5bp,-481.7bp) {Bull Trend Line};
\node[anchor=base west, inner sep=0, font=\bfseries\fontsize{14.6}{16}\selectfont] at (521bp,-723bp) {Buy Signals At High Levels};
\draw[black, line width=2.2bp, dash pattern=on 4bp off 2.5bp] (753bp,-707.7bp) -- (496bp,-709.9bp);
\fill[black] (485bp,-710bp) -- (498bp,-704bp) -- (498bp,-716bp) -- cycle;

\tikzset{buyA/.style={black, line width=2.6bp, dash pattern=on 8bp off 4bp},
         buyB/.style={black, line width=2.3bp, dash pattern=on 4bp off 2.5bp}}
\foreach \xx in {106,167.7,316.7,401.8} \draw[buyA] (\xx bp,-28.7bp) -- (\xx bp,-796bp);
\foreach \xx in {484,571.7,755.7} \draw[buyB] (\xx bp,-28.7bp) -- (\xx bp,-796bp);

\foreach \xx/\yy in {111/791.7,172.7/790.7,320.7/794,408.3/793.3,487.3/790.7,575.2/792.3,758.6/792.3}
  \node[anchor=base west, inner sep=0, font=\bfseries\fontsize{14.7}{16}\selectfont] at (\xx bp,-\yy bp) {BUY};

\pgfresetboundingbox
\path[use as bounding box] (0,0) rectangle (1050bp,-811bp);
\end{tikzpicture}
\end{document}
